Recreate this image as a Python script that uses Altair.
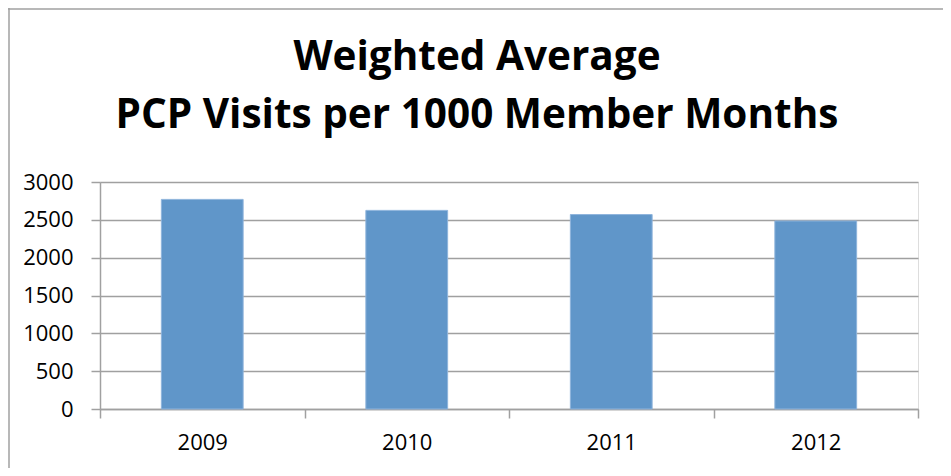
import altair as alt
import pandas as pd

years = ["2009", "2010", "2011", "2012"]
visits = [2770, 2625, 2570, 2485]
title_lines = ["Weighted Average", "PCP Visits per 1000 Member Months"]
y_ticks = [0, 500, 1000, 1500, 2000, 2500, 3000]

df = pd.DataFrame({"year": years, "visits": visits})

FONT = "Open Sans"
GRAY = "#a0a0a0"

PAD_L, PAD_T, PAD_R, PAD_B = 92, 174, 25, 59
W, H = 818, 227

bars = alt.Chart(df).mark_bar(
    color="#6096C9", stroke="#8fb4dc", strokeWidth=1,
    width=alt.RelativeBandSize(0.4)
).encode(
    x=alt.X("year:N", sort=years, title=None,
            scale=alt.Scale(paddingInner=0, paddingOuter=0),
            axis=alt.Axis(labelAngle=0, tickBand="extent", grid=False,
                          labelFontSize=22, labelFont=FONT, labelColor="#000000",
                          labelPadding=14, tickSize=9, tickColor=GRAY, tickWidth=1.5,
                          domainColor=GRAY, domainWidth=1.5)),
    y=alt.Y("visits:Q", title=None,
            scale=alt.Scale(domain=[0, 3000], nice=False),
            axis=alt.Axis(values=y_ticks, format="d", labelFontSize=22, labelFont=FONT,
                          labelColor="#000000", labelPadding=18, tickSize=9,
                          tickColor=GRAY, tickWidth=1.5, domainColor=GRAY,
                          domainWidth=1.5, gridColor=GRAY, gridWidth=1.5)),
)

frame_df = pd.DataFrame({"k": [0]})
top_line = alt.Chart(frame_df).mark_rule(color=GRAY, strokeWidth=1.5).encode(
    x=alt.value(-PAD_L), x2=alt.value(W + PAD_R), y=alt.value(-PAD_T + 1)
)
left_line = alt.Chart(frame_df).mark_rule(color=GRAY, strokeWidth=1.5).encode(
    x=alt.value(-PAD_L + 1), y=alt.value(-PAD_T), y2=alt.value(H + PAD_B)
)

TITLE_X = 469 - PAD_L
title1 = alt.Chart(pd.DataFrame({"t": [title_lines[0]]})).mark_text(
    font=FONT, fontSize=40.5, fontWeight="bold", color="#000000",
    align="center", baseline="alphabetic"
).encode(text="t:N", x=alt.value(TITLE_X), y=alt.value(62 - PAD_T))
title2 = alt.Chart(pd.DataFrame({"t": [title_lines[1]]})).mark_text(
    font=FONT, fontSize=40.5, fontWeight="bold", color="#000000",
    align="center", baseline="alphabetic"
).encode(text="t:N", x=alt.value(TITLE_X), y=alt.value(120 - PAD_T))

chart = alt.layer(bars, top_line, left_line, title1, title2).properties(
    width=W, height=H,
    autosize=alt.AutoSizeParams(type="none"),
    padding={"left": PAD_L, "top": PAD_T, "right": PAD_R, "bottom": PAD_B},
).configure_view(stroke=None).configure(background="white")

chart.save("out.html", embed_options={"renderer": "svg", "actions": False})
